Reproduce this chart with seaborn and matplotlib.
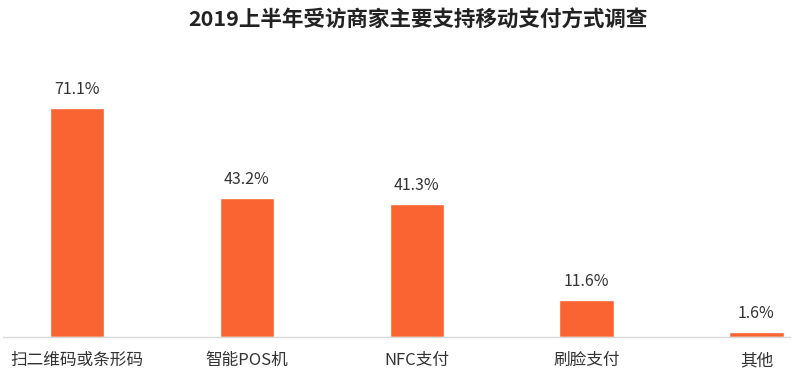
import matplotlib
matplotlib.use("Agg")
import matplotlib.pyplot as plt
import seaborn as sns
import pandas as pd

# Survey data
categories = ["扫二维码或条形码", "智能POS机", "NFC支付", "刷脸支付", "其他"]
shares = [71.1, 43.2, 41.3, 11.6, 1.6]

sns.set_theme(style="white")
plt.rcParams["font.family"] = ["Noto Sans CJK SC", "DejaVu Sans"]

df = pd.DataFrame({"category": categories, "share": shares})

fig = plt.figure(figsize=(8, 3.84), dpi=100)
ax = fig.add_axes([0.004, 0.1224, 0.984, 0.671])

sns.barplot(data=df, x="category", y="share", color="#FA6432", width=0.32,
            saturation=1, ax=ax)

for i, v in enumerate(shares):
    ax.text(i, v + 3, f"{v}%", ha="center", va="bottom", fontsize=11.5, color="#333333")

ax.set_xlim(-0.435, 4.2)
ax.set_ylim(0, 80)
ax.set_yticks([])
ax.set_xlabel("")
ax.set_ylabel("")
ax.tick_params(axis="x", length=0, pad=11, labelsize=12, labelcolor="#333333")
for side in ["left", "right", "top"]:
    ax.spines[side].set_visible(False)
ax.spines["bottom"].set_color("#d9d9d9")
ax.spines["bottom"].set_linewidth(1)

fig.suptitle("2019上半年受访商家主要支持移动支付方式调查", x=0.522, y=0.975,
             fontsize=15.5, fontweight="bold", color="#222222")

fig.savefig("out.png", dpi=100)
